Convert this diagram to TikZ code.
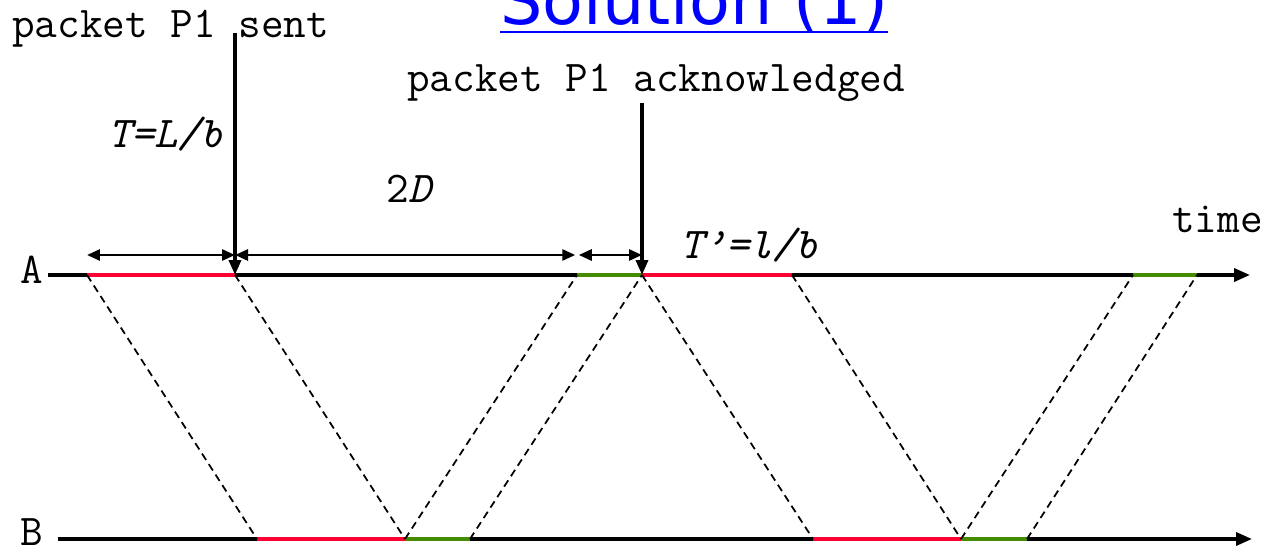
\documentclass[tikz,border=0pt]{standalone}
\usepackage{fontspec}
\newfontfamily\titlefont{DejaVu Sans}
\usepackage{tikz}
\usetikzlibrary{arrows.meta,positioning,calc}
\definecolor{pktred}{RGB}{255,0,51}
\definecolor{ackgreen}{RGB}{70,140,0}
\definecolor{linkblue}{RGB}{0,0,255}
\tikzset{
    axis/.style={line width=2pt, -{Triangle[length=0.32cm, width=0.26cm]}},
    pkt/.style={line width=2.4pt, pktred},
    ack/.style={line width=2.4pt, ackgreen},
    prop/.style={line width=1pt, dash pattern=on 0.15cm off 0.1cm},
    marker/.style={line width=2pt, -{Triangle[length=0.3cm, width=0.24cm]}},
    span/.style={line width=1.6pt, {Triangle[length=0.26cm, width=0.22cm]}-{Triangle[length=0.26cm, width=0.22cm]}},
    mono/.style={font=\ttfamily\fontsize{25}{28}\selectfont, inner sep=0pt, anchor=base west},
    monoit/.style={font=\ttfamily\itshape\fontsize{25}{28}\selectfont, inner sep=0pt, anchor=base west},
}

\begin{document}
\begin{tikzpicture}[x=0.02cm, y=-0.02cm]
    \useasboundingbox (0,0) rectangle (1264,547);

    % Title
    \node[anchor=base west, inner sep=0pt, text=linkblue, font=\titlefont\fontsize{38}{40}\selectfont] (title) at (500,25) {Solution (1)};
    \draw[linkblue, line width=1.6pt] ($(title.base west)+(0,7)$) -- ($(title.base east)+(0,7)$);

    % Time lines of A and B
    \coordinate (aL) at (48,275);
    \coordinate (aR) at (1250,275);
    \coordinate (bL) at (58,539);
    \coordinate (bR) at (1252,539);
    \foreach \n/\x in {0/87, 1/235, 2/577, 3/642, 4/792, 5/1133, 6/1197} {
        \coordinate (a\n) at (\x,275);
    }
    \foreach \n/\x in {0/257, 1/405, 2/470, 3/813, 4/961, 5/1027} {
        \coordinate (b\n) at (\x,539);
    }
    \draw[axis] (aL) -- (aR);
    \draw[axis] (bL) -- (bR);
    \node[mono] (lblA) at (20,283) {A};
    \node[mono] (lblB) at (20,545) {B};
    \node[mono] (timelbl) at (1172,233) {time};

    % Packets (red) and acks (green)
    \draw[pkt] (a0) -- (a1);
    \draw[pkt] (a3) -- (a4);
    \draw[ack] (a2) -- (a3);
    \draw[ack] (a5) -- (a6);
    \draw[pkt] (b0) -- (b1);
    \draw[pkt] (b3) -- (b4);
    \draw[ack] (b1) -- (b2);
    \draw[ack] (b4) -- (b5);

    % Propagation
    \foreach \s/\t in {a0/b0, a1/b1, b1/a2, b2/a3, a3/b3, a4/b4, b4/a5, b5/a6} {
        \draw[prop] (\s) -- (\t);
    }

    % Events
    \node[mono] (sent) at (12,38) {packet P1 sent};
    \node[mono] (acked) at (407,92) {packet P1 acknowledged};
    \coordinate (sentTop) at (235,33);
    \coordinate (ackTop) at (642,103);
    \draw[marker] (sentTop) -- (a1);
    \draw[marker] (ackTop) -- (a3);

    % Durations
    \draw[span] ($(a0)+(0,-20)$) -- ($(a1)+(0,-20)$);
    \draw[span, shorten >=1pt] ($(a1)+(0,-20)$) -- ($(a2)+(0,-20)$);
    \draw[span, shorten <=1pt] ($(a2)+(0,-20)$) -- ($(a3)+(0,-20)$);
    \node[monoit] (tlb) at (108,148) {T=L/b};
    \node[mono] (twoD) at (386,203) {2\textit{D}};
    \node[monoit] (tprime) at (680,258) {T’=l/b};
\end{tikzpicture}
\end{document}
